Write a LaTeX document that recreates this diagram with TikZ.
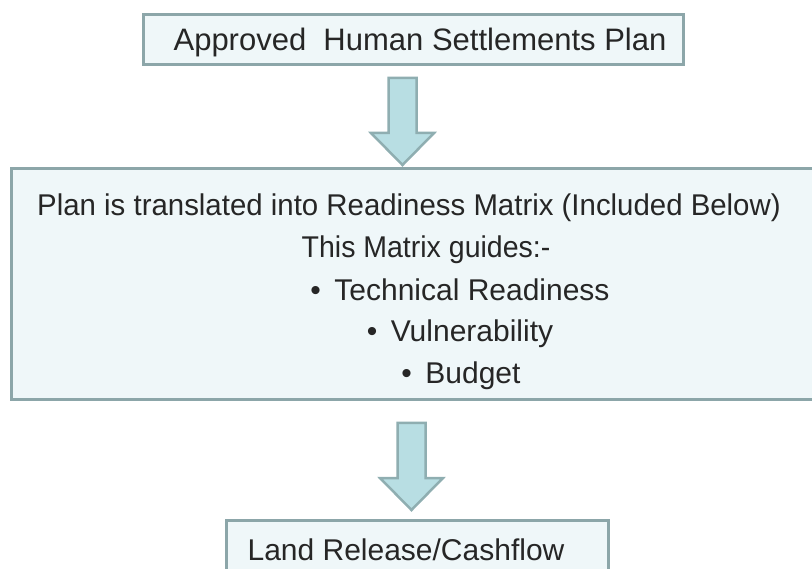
\documentclass[tikz,border=0pt]{standalone}
\usepackage{fontspec}
\setmainfont{Liberation Sans}
\newfontfamily\narrowfont[FakeStretch=0.95]{Liberation Sans}
\newfontfamily\widefont[FakeStretch=0.98]{Liberation Sans}
\usetikzlibrary{positioning}
\definecolor{boxfill}{HTML}{EFF7F9}
\definecolor{boxline}{HTML}{8CA6A9}
\definecolor{arrowfill}{HTML}{B8DEE3}
\definecolor{arrowline}{HTML}{8FAEB1}
\tikzstyle{block} = [draw=boxline, fill=boxfill, line width=3pt, rectangle, inner sep=0pt, anchor=north west]
\tikzstyle{txt} = [anchor=base, inner sep=0pt, text=black!85, font=\fontsize{30}{36}\selectfont]
\tikzstyle{fatarrow} = [draw=arrowline, fill=arrowfill, line width=2.5pt, line join=miter]

\begin{document}
\begin{tikzpicture}[x=1pt, y=-1pt]
    \path[use as bounding box, clip] (0,0) rectangle (812,569);
    \node [block, minimum width=540pt, minimum height=50pt] (plan) at (142,13) {};
    \node [block, minimum width=820pt, minimum height=231pt] (readiness) at (10,167) {};
    \node [block, minimum width=382pt, minimum height=90pt] (land) at (225,519) {};
    \node [txt, font=\fontsize{31}{36}\selectfont] (plantxt) at (420,51) {Approved\ \ Human Settlements Plan};
    \node [txt] (line1) at (409,216) {\widefont Plan is translated into Readiness Matrix (Included Below)};
    \node [txt] (line2) at (426,258) {\narrowfont This Matrix guides:-};
    \node [txt] (line3) at (460,301) {•\hspace{0.45em}Technical Readiness};
    \node [txt] (line4) at (460,342) {•\hspace{0.45em}Vulnerability};
    \node [txt] (line5) at (461,384) {•\hspace{0.45em}Budget};
    \node [txt] (landtxt) at (406,560) {Land Release/Cashflow};
    \coordinate [below=12pt of plan.south, xshift=-11pt] (a1);
    \coordinate [below=22pt of readiness.south, xshift=-10pt] (a2);
    %\draw [->] (plan) -- (readiness);
    \foreach \a in {a1,a2}
      \draw [fatarrow] (\a) ++(-14,0) -- ++(28,0) -- ++(0,55) -- ++(17.5,0)
        -- ++(-31.5,32) -- ++(-31.5,-32) -- ++(17.5,0) -- cycle;
\end{tikzpicture}
\end{document}
